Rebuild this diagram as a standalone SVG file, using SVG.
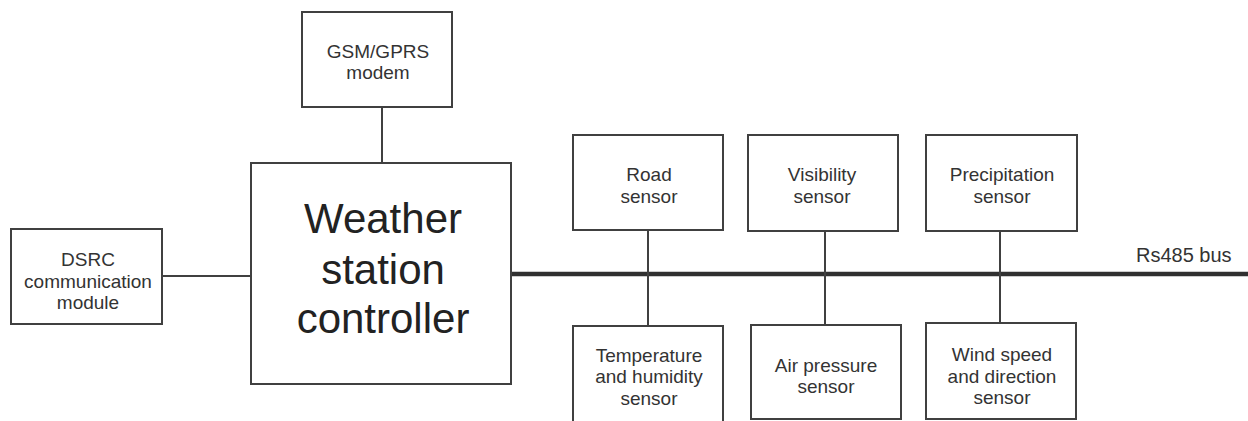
<svg xmlns="http://www.w3.org/2000/svg" width="1248" height="421" viewBox="0 0 1248 421">
<style>
.box{fill:#fff;stroke:#404040;stroke-width:2}
.ln{stroke:#404040;stroke-width:2;fill:none}
.bus{stroke:#303030;stroke-width:4.5;fill:none}
.t{font-family:"Liberation Sans",Arial,sans-serif;font-size:19px;fill:#333;text-anchor:middle}
.big{font-family:"Liberation Sans",Arial,sans-serif;font-size:42px;fill:#222;text-anchor:middle}
</style>
<rect width="1248" height="421" fill="#fff"/>
<g id="connectors">
<line class="ln" x1="382" y1="107" x2="382" y2="163"/>
<line class="ln" x1="162" y1="276" x2="251" y2="276"/>
<line class="bus" x1="511" y1="274" x2="1248" y2="274"/>
<line class="ln" x1="648" y1="230" x2="648" y2="326"/>
<line class="ln" x1="825" y1="231" x2="825" y2="325"/>
<line class="ln" x1="1000" y1="231" x2="1000" y2="323"/>
</g>
<g id="gsm">
<rect class="box" x="302" y="12" width="150" height="95"/>
<text class="t" x="378" y="58">GSM/GPRS</text>
<text class="t" x="378" y="79">modem</text>
</g>
<g id="controller">
<rect class="box" x="251" y="163" width="260" height="221"/>
<text class="big" x="383" y="233">Weather</text>
<text class="big" x="383" y="284">station</text>
<text class="big" x="383" y="333">controller</text>
</g>
<g id="dsrc">
<rect class="box" x="11" y="229" width="151" height="95"/>
<text class="t" x="88" y="266">DSRC</text>
<text class="t" x="88" y="288">communication</text>
<text class="t" x="88" y="309">module</text>
</g>
<g id="road">
<rect class="box" x="573" y="135" width="150" height="95"/>
<text class="t" x="649" y="181">Road</text>
<text class="t" x="649" y="203">sensor</text>
</g>
<g id="visibility">
<rect class="box" x="748" y="135" width="150" height="96"/>
<text class="t" x="822" y="181">Visibility</text>
<text class="t" x="822" y="203">sensor</text>
</g>
<g id="precipitation">
<rect class="box" x="926" y="135" width="151" height="96"/>
<text class="t" x="1002" y="181">Precipitation</text>
<text class="t" x="1002" y="203">sensor</text>
</g>
<g id="temperature">
<rect class="box" x="573" y="326" width="150" height="105"/>
<text class="t" x="649" y="362">Temperature</text>
<text class="t" x="649" y="383">and humidity</text>
<text class="t" x="649" y="405">sensor</text>
</g>
<g id="airpressure">
<rect class="box" x="751" y="325" width="150" height="94"/>
<text class="t" x="826" y="372">Air pressure</text>
<text class="t" x="826" y="393">sensor</text>
</g>
<g id="wind">
<rect class="box" x="926" y="323" width="150" height="96"/>
<text class="t" x="1002" y="361">Wind speed</text>
<text class="t" x="1002" y="383">and direction</text>
<text class="t" x="1002" y="404">sensor</text>
</g>
<g id="buslabel">
<text class="t" x="1136" y="262" style="text-anchor:start;font-size:20px">Rs485 bus</text>
</g>
</svg>
